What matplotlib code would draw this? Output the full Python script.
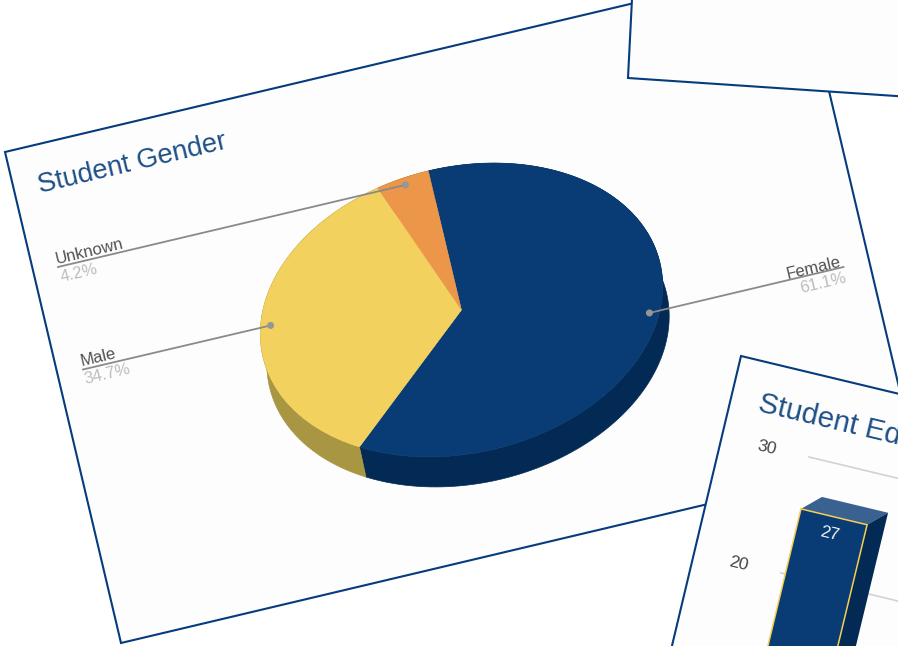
import matplotlib
matplotlib.use('Agg')
import matplotlib.pyplot as plt
import numpy as np
from matplotlib.patches import Wedge, Circle
from matplotlib.transforms import Affine2D

plt.rcParams['font.family'] = ['Liberation Sans', 'DejaVu Sans']

# pie data
gender_labels = ['Female', 'Male', 'Unknown']
gender_values = [61.1, 34.7, 4.2]

# bar card data (only the part that is visible)
edu_ticks = [20, 30]
edu_values = [27]

NAVY = '#063C7C'
CARD = '#FDFDFD'
TITLE = '#1E4F86'
TILT = 13.4

fig = plt.figure(figsize=(8.98, 6.46), dpi=100)
ax = fig.add_axes([0, 0, 1, 1])
ax.set_xlim(0, 898)
ax.set_ylim(646, 0)
ax.axis('off')


def card(corners, z):
    # corners in pixels, closed outline
    xs, ys = zip(*corners)
    ax.fill(xs, ys, facecolor=CARD, edgecolor=NAVY, linewidth=1.5, joinstyle='miter', zorder=z)


card([(5, 152), (799, -36), (915, 455), (121, 643)], 1)
card([(628, 78), (1000, 103), (1012, -100), (637, -100)], 5)
card([(741, 356), (1200, 466), (1040, 1100), (590, 990)], 6)

# pie
cx, cy = 461.5, 310
a, b = 204, 143
depth = (6.5, 30)
top_colors = ['#093B75', '#F2D15F', '#EC964A']
side_colors = ['#022A55', '#A99643', '#A8692F']
pie_tf = Affine2D().scale(a, b).rotate_deg(-TILT).translate(cx, cy)


def rim(t):
    # point on the edge of the top face, t in degrees, clockwise from the right
    pts = np.column_stack([np.cos(np.radians(t)), np.sin(np.radians(t))])
    return pie_tf.transform(pts)


ends = np.cumsum(gender_values) / np.sum(gender_values) * 360 - 90
starts = np.concatenate([[-90], ends[:-1]])

for s, e, c in zip(starts, ends, side_colors):
    t = np.linspace(s, e, 200)
    edge = rim(t)
    low = edge + np.array(depth)
    poly = np.vstack([edge, low[::-1]])
    ax.fill(poly[:, 0], poly[:, 1], color=c, linewidth=0.5, zorder=2)

for s, e, c in zip(starts, ends, top_colors):
    ax.add_patch(Wedge((0, 0), 1, s, e, facecolor=c, edgecolor=c, linewidth=0.3,
                       transform=pie_tf + ax.transData, zorder=3))

# leader lines, they start from the middle of each slice
label_ends = [(843.5, 267), (83, 369.5), (58, 267)]
mids = (starts + ends) / 2
anchors = pie_tf.transform(np.column_stack([np.cos(np.radians(mids)), np.sin(np.radians(mids))]) * 0.95)
for (x, y), (lx, ly) in zip(anchors, label_ends):
    ax.plot([x, lx], [y, ly], color='#8A8A8A', linewidth=1.3, zorder=4)
    ax.add_patch(Circle((x, y), 2.8, color='#969696', zorder=4))

name_pos = [(842, 266, 'right'), (81.5, 366, 'left'), (57, 263.5, 'left')]
pct_pos = [(846.5, 282, 'right'), (85.5, 384, 'left'), (62, 282, 'left')]
for name, v, p, q in zip(gender_labels, gender_values, name_pos, pct_pos):
    ax.text(p[0], p[1], name, color='#505050', fontsize=12, rotation=TILT,
            rotation_mode='anchor', ha=p[2], va='baseline', zorder=4)
    ax.text(q[0], q[1], f'{v}%', color='#BDBDBD', fontsize=12, rotation=TILT,
            rotation_mode='anchor', ha=q[2], va='baseline', zorder=4)

ax.text(40.5, 193, 'Student Gender', color=TITLE, fontsize=19.7, rotation=TILT,
        rotation_mode='anchor', ha='left', va='baseline', zorder=4)

# bar card, everything goes through edu()
ux = np.array([0.972, 0.233])
vy = np.array([2.8, -11.6])
p30 = np.array([809.0, 457.0])
front = np.array([-21.0, 12.0])


def edu(u, v):
    return p30 + u * ux + (v - 30) * vy


ax.text(757, 411, 'Student Education', color=TITLE, fontsize=21.2, rotation=-TILT,
        rotation_mode='anchor', ha='left', va='baseline', zorder=7)

for tick in edu_ticks:
    g0, g1 = edu(0, tick), edu(400, tick)
    ax.plot([g0[0], g1[0]], [g0[1], g1[1]], color='#D2D2D2', linewidth=1.2, zorder=7)
    lab = edu(-54, tick) + np.array([0, 6])
    ax.text(lab[0], lab[1], str(tick), color='#444444', fontsize=12.5, rotation=-TILT,
            rotation_mode='anchor', ha='left', va='baseline', zorder=7)

bar_left, bar_right = 22, 90
for v in edu_values:
    bl, br = edu(bar_left, 0), edu(bar_right, 0)
    tl, tr = edu(bar_left, v), edu(bar_right, v)
    top = np.array([tl, tr, tr + front, tl + front])
    side = np.array([tr, br, br + front, tr + front])
    face = np.array([tl + front, tr + front, br + front, bl + front])
    ax.fill(top[:, 0], top[:, 1], color='#3A6290', linewidth=0, zorder=8)
    ax.fill(side[:, 0], side[:, 1], color='#022A55', linewidth=0, zorder=8)
    ax.fill(face[:, 0], face[:, 1], facecolor='#093B75', edgecolor='#F5CF4F', linewidth=1.1, zorder=9)
    mid = (tl + tr) / 2 + front + np.array([-0.233, 0.972]) * 22
    ax.text(mid[0], mid[1], str(v), color='#F2F2F2', fontsize=12.5, rotation=-TILT,
            rotation_mode='anchor', ha='center', va='baseline', zorder=10)

fig.savefig('out.png', dpi=100)
